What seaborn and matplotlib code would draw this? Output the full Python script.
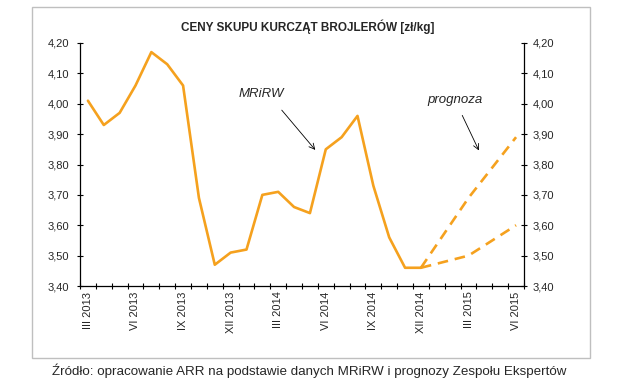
import matplotlib
matplotlib.use("Agg")
import matplotlib.pyplot as plt
import seaborn as sns
import pandas as pd
import numpy as np
from matplotlib.patches import Rectangle

# ---------------- data ----------------
months = ["III 2013", "IV 2013", "V 2013", "VI 2013", "VII 2013", "VIII 2013",
          "IX 2013", "X 2013", "XI 2013", "XII 2013", "I 2014", "II 2014",
          "III 2014", "IV 2014", "V 2014", "VI 2014", "VII 2014", "VIII 2014",
          "IX 2014", "X 2014", "XI 2014", "XII 2014", "I 2015", "II 2015",
          "III 2015", "IV 2015", "V 2015", "VI 2015"]
actual_months = months[:22]
actual_values = [4.01, 3.93, 3.97, 4.06, 4.17, 4.13, 4.06, 3.69, 3.47, 3.51,
                 3.52, 3.70, 3.71, 3.66, 3.64, 3.85, 3.89, 3.96, 3.73, 3.56,
                 3.46, 3.46]
forecast_months = ["XII 2014", "III 2015", "VI 2015"]
forecast_high = [3.46, 3.69, 3.89]
forecast_low = [3.46, 3.50, 3.60]
label_months = months[::3]
y_ticks = [3.40, 3.50, 3.60, 3.70, 3.80, 3.90, 4.00, 4.10, 4.20]
title = "CENY SKUPU KURCZĄT BROJLERÓW [zł/kg]"
source = "Źródło: opracowanie ARR na podstawie danych MRiRW i prognozy Zespołu Ekspertów"

# ---------------- style ----------------
sns.set_theme(style="white")
plt.rcParams["font.family"] = ["Liberation Sans", "DejaVu Sans"]
ORANGE = "#F5A11E"
W, H = 618, 385

df_act = pd.DataFrame({"x": [months.index(m) for m in actual_months], "v": actual_values})
df_hi = pd.DataFrame({"x": [months.index(m) for m in forecast_months], "v": forecast_high})
df_lo = pd.DataFrame({"x": [months.index(m) for m in forecast_months], "v": forecast_low})

fig = plt.figure(figsize=(W / 100, H / 100), dpi=100)
ax = fig.add_axes([80 / W, 1 - 286 / H, 444 / W, 243 / H])

sns.lineplot(data=df_act, x="x", y="v", ax=ax, color=ORANGE, lw=1.9)
sns.lineplot(data=df_hi, x="x", y="v", ax=ax, color=ORANGE, lw=1.9)
ax.lines[-1].set_linestyle((0, (4.0, 2.6)))
sns.lineplot(data=df_lo, x="x", y="v", ax=ax, color=ORANGE, lw=1.9)
ax.lines[-1].set_linestyle((0, (4.0, 2.6)))

ax.set_xlim(-0.5, len(months) - 0.5)
ax.set_ylim(y_ticks[0], y_ticks[-1])
ax.set_xlabel("")
ax.set_ylabel("")

fmt = lambda v: f"{v:.2f}".replace(".", ",")
ax.set_yticks(y_ticks)
ax.set_yticklabels([fmt(v) for v in y_ticks])
ax.set_xticks(np.arange(-0.5, len(months), 1.0))
ax.set_xticklabels([])
ax.set_xticks([months.index(m) for m in label_months], label_months, minor=True)
ax.tick_params(axis="x", which="major", direction="inout", length=5, width=0.8, color="black", bottom=True)
ax.tick_params(axis="x", which="minor", length=0, pad=4, labelsize=8, labelrotation=90, bottom=True)
ax.tick_params(axis="y", which="major", direction="inout", length=5, width=0.8, color="black",
               left=True, pad=5.5, labelsize=8)
for t in ax.get_xticklabels(minor=True):
    t.set_va("top")

for s in ["top", "right"]:
    ax.spines[s].set_visible(False)
for s in ["left", "bottom"]:
    ax.spines[s].set_color("black")
    ax.spines[s].set_linewidth(0.9)

ax2 = ax.twinx()
ax2.set_ylim(y_ticks[0], y_ticks[-1])
ax2.set_yticks(y_ticks)
ax2.set_yticklabels([fmt(v) for v in y_ticks])
ax2.tick_params(axis="y", direction="inout", length=5, width=0.8, color="black",
                right=True, pad=4, labelsize=8)
for s in ["top", "left", "bottom"]:
    ax2.spines[s].set_visible(False)
ax2.spines["right"].set_color("black")
ax2.spines["right"].set_linewidth(0.9)
ax2.grid(False)
ax.grid(False)

# annotations
ax.text(10.91, 4.032, "MRiRW", style="italic", fontsize=9.5, ha="center", va="center")
ax.annotate("", xy=(14.45, 3.841), xytext=(12.11, 3.986),
            arrowprops=dict(arrowstyle="->", lw=0.6, color="black", mutation_scale=10))
ax.text(23.15, 4.012, "prognoza", style="italic", fontsize=9.5, ha="center", va="center")
ax.annotate("", xy=(24.73, 3.838), xytext=(23.53, 3.970),
            arrowprops=dict(arrowstyle="->", lw=0.6, color="black", mutation_scale=10))

fig.text(308 / W, 1 - 27 / H, title, ha="center", va="center", fontsize=8.5, fontweight="bold")
fig.text(309 / W, 1 - 371 / H, source, ha="center", va="center", fontsize=9.6)
fig.patches.append(Rectangle((32 / W, 1 - 358 / H), (590 - 32) / W, (358 - 7) / H,
                             transform=fig.transFigure, fill=False, edgecolor="#BFBFBF", lw=1))

fig.savefig("out.png", dpi=100)
